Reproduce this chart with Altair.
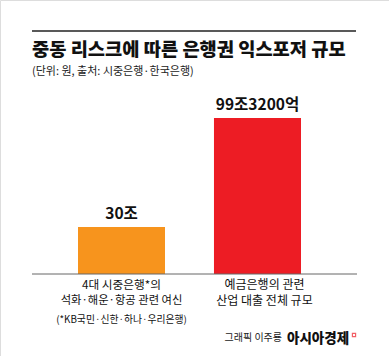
import altair as alt
import pandas as pd

# ---- data ----
categories = ["4대 시중은행 여신", "예금은행 산업 대출"]
values = [30, 99.32]
value_labels = ["30조", "99조3200억"]
bar_colors = ["#F7941D", "#ED1C24"]
label_lines = [
    ["4대 시중은행*의", "석화·해운·항공 관련 여신", "(*KB국민·신한·하나·우리은행)"],
    ["예금은행의 관련", "산업 대출 전체 규모", ""],
]
title_text = "중동 리스크에 따른 은행권 익스포저 규모"
subtitle_text = "(단위: 원, 출처: 시중은행·한국은행)"
credit_text = "그래픽 이주룡"
brand_text = "아시아경제"

FONT = "Noto Sans CJK KR"
W, H = 389, 356

df = pd.DataFrame({"cat": categories, "value": values, "label": value_labels, "color": bar_colors})

x = alt.X("cat:N", sort=categories, axis=None,
          scale=alt.Scale(type="band", range=[78, 301], paddingInner=0.36, paddingOuter=0))
y = alt.Y("value:Q", axis=None, scale=alt.Scale(domain=[0, 99.32], range=[274, 118]))

bars = alt.Chart(df).mark_bar().encode(
    x=x, y=y, color=alt.Color("color:N", scale=None)
)

vals = alt.Chart(df).mark_text(font=FONT, fontWeight="bold", fontSize=15.5, baseline="bottom",
                               dy=-5, color="#111").encode(x=x, y=y, text="label:N")

base = alt.Chart(pd.DataFrame({"v": [0]}))
top_rule = base.mark_rule(color="#222", strokeWidth=1.5).encode(
    x=alt.value(32), x2=alt.value(356), y=alt.value(31))
baseline_rule = base.mark_rule(color="#666", strokeWidth=1).encode(
    x=alt.value(32), x2=alt.value(357), y=alt.value(274))

title = base.mark_text(font=FONT, fontWeight=900, fontSize=18.7, align="left", baseline="middle",
                       color="#111").encode(x=alt.value(32), y=alt.value(50), text=alt.value(title_text))
subtitle = base.mark_text(font=FONT, fontSize=11, align="left", baseline="middle",
                          color="#222").encode(x=alt.value(32), y=alt.value(72), text=alt.value(subtitle_text))
credit = base.mark_text(font=FONT, fontSize=10, align="right", baseline="middle",
                        color="#222").encode(x=alt.value(282), y=alt.value(338), text=alt.value(credit_text))
brand = base.mark_text(font=FONT, fontWeight=900, fontSize=13.5, align="left", baseline="middle",
                       color="#111").encode(x=alt.value(287), y=alt.value(339), text=alt.value(brand_text))
icon = base.mark_point(shape="square", size=10, color="#ED1C24", filled=False, strokeWidth=1.2).encode(
    x=alt.value(354), y=alt.value(335))

line_y = [284.5, 301, 320]
line_size = [11.7, 11.3, 9.8]
dxs = [0, 7]
cat_layers = []
for ci, cat in enumerate(categories):
    for li, txt in enumerate(label_lines[ci]):
        if not txt:
            continue
        d = pd.DataFrame({"cat": [cat], "t": [txt]})
        size = line_size[li] if ci == 0 else 12
        cat_layers.append(
            alt.Chart(d).mark_text(font=FONT, fontSize=size, baseline="middle",
                                   dx=dxs[ci], color="#111").encode(
                x=x, y=alt.value(line_y[li]), text="t:N")
        )

chart = alt.layer(bars, vals, top_rule, baseline_rule, title, subtitle, credit, brand, icon,
                  *cat_layers).properties(
    width=W, height=H, padding=0, autosize=alt.AutoSizeParams(type="none")
).configure_view(stroke=None).configure(background="white")

chart.save("out.html", embed_options={"renderer": "svg", "actions": False})
